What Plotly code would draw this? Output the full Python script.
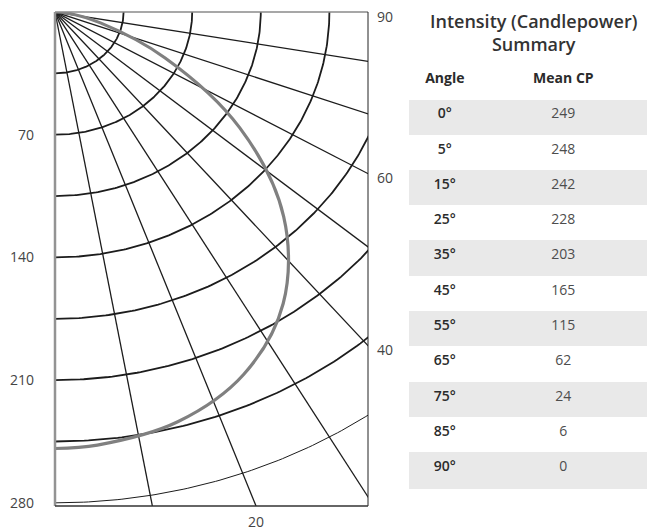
import numpy as np
import plotly.graph_objects as go

# ---------------- data ----------------
angles_deg = [0, 5, 15, 25, 35, 45, 55, 65, 75, 85, 90]
mean_cp = [249, 248, 242, 228, 203, 165, 115, 62, 24, 6, 0]

ring_values = [35, 70, 105, 140, 175, 210, 245, 280]
ray_angles = [10, 20, 30, 40, 50, 60, 70, 80]
radial_tick_values = [70, 140, 210, 280]
right_angle_labels = [90, 60, 40]
bottom_angle_labels = [20]

table_title = ["Intensity (Candlepower)", "Summary"]
table_headers = ["Angle", "Mean CP"]

# ---------------- layout constants ----------------
W, H = 647, 531
ML, MR, MT, MB = 55, 0, 12, 23
PW, PH = W - ML - MR, H - MT - MB
PLOT_W = 313
X_MAX = 159.7   # candela along horizontal
Y_MAX = 281.8   # candela along vertical

FONT = "Open Sans"
GRID = "#1c1c1c"

fig = go.Figure()

# grid rings
for v in ring_values:
    t = np.radians(np.linspace(0, 90, 181))
    fig.add_trace(go.Scatter(
        x=v * np.sin(t), y=v * np.cos(t), mode="lines",
        line=dict(color=GRID, width=1.0 if v == ring_values[-1] else 1.8),
        hoverinfo="skip", showlegend=False))

# rays
for a in ray_angles:
    r = np.radians(a)
    L = 2000
    fig.add_trace(go.Scatter(
        x=[0, L * np.sin(r)], y=[0, L * np.cos(r)], mode="lines",
        line=dict(color=GRID, width=1.3),
        hoverinfo="skip", showlegend=False))

# candlepower curve
th = np.radians(angles_deg)
cp = np.array(mean_cp, dtype=float)
fig.add_trace(go.Scatter(
    x=cp * np.sin(th), y=cp * np.cos(th), mode="lines",
    line=dict(color="#808080", width=3.2, shape="spline", smoothing=1.0),
    hoverinfo="skip", showlegend=False))

# frame
frame = [
    dict(x0=0, x1=0, y0=0, y1=1, color="#939393", width=2.5),
    dict(x0=0, x1=1, y0=1, y1=1, color="#8a8a8a", width=1.5),
    dict(x0=1, x1=1, y0=0, y1=1, color="#222222", width=1.0),
    dict(x0=0, x1=1, y0=0, y1=0, color="#333333", width=1.5),
]
for f in frame:
    fig.add_shape(type="line", xref="x domain", yref="y domain",
                  x0=f["x0"], x1=f["x1"], y0=f["y0"], y1=f["y1"],
                  line=dict(color=f["color"], width=f["width"]), layer="above")

# right-side angle labels
for a in right_angle_labels:
    yv = 0 if a == 90 else X_MAX / np.tan(np.radians(a))
    fig.add_annotation(x=X_MAX, y=yv, xref="x", yref="y", text=str(a),
                       showarrow=False, xanchor="left", yanchor="middle",
                       xshift=7, yshift=-4,
                       font=dict(family=FONT, size=14, color="#444444"))

# table title
fig.add_annotation(x=(533 - ML) / PW, y=(H - MB - 32.5) / PH,
                   xref="paper", yref="paper", text="<br>".join(table_title),
                   showarrow=False, xanchor="center", yanchor="middle",
                   font=dict(family=FONT, size=18, color="#333333", weight=600))

# table
row_fill = ["#e9e9e9" if i % 2 == 0 else "#ffffff" for i in range(len(angles_deg))]
fig.add_trace(go.Table(
    domain=dict(x=[(409 - ML) / PW, 1.0], y=[0.0, (H - MB - 65) / PH]),
    columnwidth=[72, 166],
    header=dict(values=table_headers,
                fill_color="white", line=dict(color="white", width=1),
                align="center", height=35,
                font=dict(family=FONT, size=14, color="#2b2b2b", weight=700)),
    cells=dict(values=[["%d°" % a for a in angles_deg],
                       [str(v) for v in mean_cp]],
               fill_color=[row_fill, row_fill],
               line=dict(color=[row_fill, row_fill], width=1),
               align="center", height=35.3,
               font=dict(family=FONT, size=14, color=["#2b2b2b", "#4d4d4d"],
                         weight=[600, 400])),
))

fig.update_layout(
    width=W, height=H,
    margin=dict(l=ML, r=MR, t=MT, b=MB, pad=0),
    paper_bgcolor="white", plot_bgcolor="white",
    showlegend=False,
    xaxis=dict(domain=[0, PLOT_W / PW], range=[0, X_MAX],
               showgrid=False, zeroline=False, showline=False, ticks="",
               tickvals=[Y_MAX * np.tan(np.radians(a)) for a in bottom_angle_labels],
               ticktext=[str(a) for a in bottom_angle_labels],
               ticklabelstandoff=6,
               tickfont=dict(family=FONT, size=14, color="#444444")),
    yaxis=dict(domain=[0, 1], range=[Y_MAX, 0],
               showgrid=False, zeroline=False, showline=False, ticks="",
               tickvals=radial_tick_values,
               ticktext=[str(v) for v in radial_tick_values],
               ticklabelstandoff=20,
               tickfont=dict(family=FONT, size=14, color="#444444")),
)

fig.write_html("out.html", config={"displayModeBar": False},
               post_script="document.body.style.margin='0';")
